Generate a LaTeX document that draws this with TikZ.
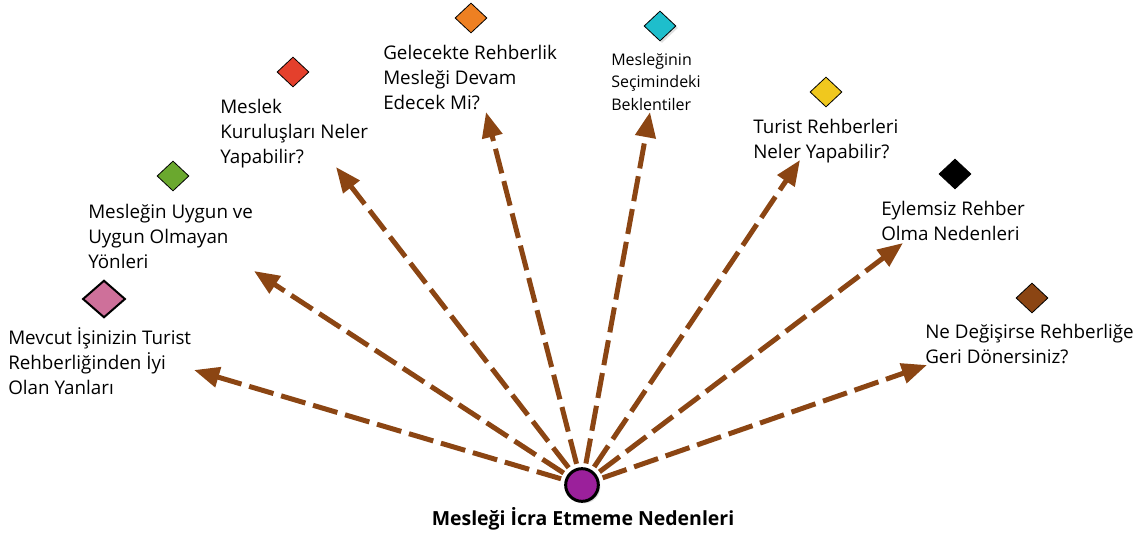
\documentclass[tikz,border=0pt]{standalone}
\usepackage{fontspec}
\setmainfont{Open Sans}
\usetikzlibrary{shapes.geometric,arrows.meta,shadows}

\definecolor{raybrown}{RGB}{139,69,19}
\definecolor{hubpurple}{RGB}{155,32,155}
\definecolor{gempink}{RGB}{206,112,154}
\definecolor{gemgreen}{RGB}{106,168,46}
\definecolor{gemred}{RGB}{228,64,44}
\definecolor{gemorange}{RGB}{238,128,34}
\definecolor{gemcyan}{RGB}{30,190,204}
\definecolor{gemyellow}{RGB}{240,200,30}

\begin{document}
\begin{tikzpicture}[x=0.75pt,y=-0.75pt,
   lbl/.style={anchor=north west,inner sep=0pt,align=left,font=\fontsize{14.1}{19}\selectfont},
   smalllbl/.style={lbl,font=\fontsize{12}{17}\selectfont},
   gem/.style={diamond,draw=black,line width=0.6pt,inner sep=0pt,minimum width=24pt,minimum height=22.5pt},
   ray/.style={raybrown,line width=3.75pt,dash pattern=on 19pt off 6pt,shorten <=3pt,
      -{Triangle[length=19pt,width=15pt]}}]
   \useasboundingbox (0,0) rectangle (1142,535);
   % hub
   \node[circle,fill=hubpurple,draw=black,line width=2.25pt,minimum size=24.5pt,inner sep=0pt,
      drop shadow={shadow xshift=1.5pt,shadow yshift=-1.5pt,fill=black!25}] (hub) at (582,485) {};
   \node[anchor=base,font=\fontsize{14.6}{17}\selectfont\bfseries] (title) at (583,525) {Mesleği İcra Etmeme Nedenleri};
   % diamonds
   \node[gem,fill=gempink,line width=1.5pt,minimum width=32pt,minimum height=28pt] (gmevcut) at (104,299) {};
   \node[gem,fill=gemgreen] (guygun) at (173,176) {};
   \node[gem,fill=gemred] (gkurulus) at (293,72) {};
   \node[gem,fill=gemorange] (ggelecek) at (471,18) {};
   \node[gem,fill=gemcyan,drop shadow={shadow xshift=1.5pt,shadow yshift=-1.5pt,fill=black!25}] (gbeklenti) at (660,26) {};
   \node[gem,fill=gemyellow] (gturist) at (826,92) {};
   \node[gem,fill=black] (geylemsiz) at (955,174) {};
   \node[gem,fill=raybrown] (gdonus) at (1032,298) {};
   % labels
   \node[lbl] (lmevcut) at (8,326) {\strut Mevcut İşinizin Turist\\Rehberliğinden İyi\\Olan Yanları};
   \node[lbl] (luygun) at (88,200) {\strut Mesleğin Uygun ve\\Uygun Olmayan\\Yönleri};
   \node[lbl] (lkurulus) at (220,95) {\strut Meslek\\Kuruluşları Neler\\Yapabilir?};
   \node[lbl] (lgelecek) at (383,41) {\strut Gelecekte Rehberlik\\Mesleği Devam\\Edecek Mi?};
   \node[smalllbl] (lbeklenti) at (611,49) {\strut Mesleğinin\\Seçimindeki\\Beklentiler};
   \node[lbl] (lturist) at (753,115) {\strut Turist Rehberleri\\Neler Yapabilir?};
   \node[lbl] (leylemsiz) at (881,197) {\strut Eylemsiz Rehber\\Olma Nedenleri};
   \node[lbl] (ldonus) at (925,320) {\strut Ne Değişirse Rehberliğe\\Geri Dönersiniz?};
   % arrow tips
   \coordinate (tmevcut) at (194,370);
   \coordinate (tuygun) at (254,271);
   \coordinate (tkurulus) at (336,167);
   \coordinate (tgelecek) at (486,112);
   \coordinate (tbeklenti) at (650,112);
   \coordinate (tturist) at (800,160);
   \coordinate (teylemsiz) at (903,243);
   \coordinate (tdonus) at (927,365);
   \foreach \t in {tmevcut,tuygun,tkurulus,tgelecek,tbeklenti,tturist,teylemsiz,tdonus}
      \draw[ray] (hub) -- (\t);
\end{tikzpicture}
\end{document}
